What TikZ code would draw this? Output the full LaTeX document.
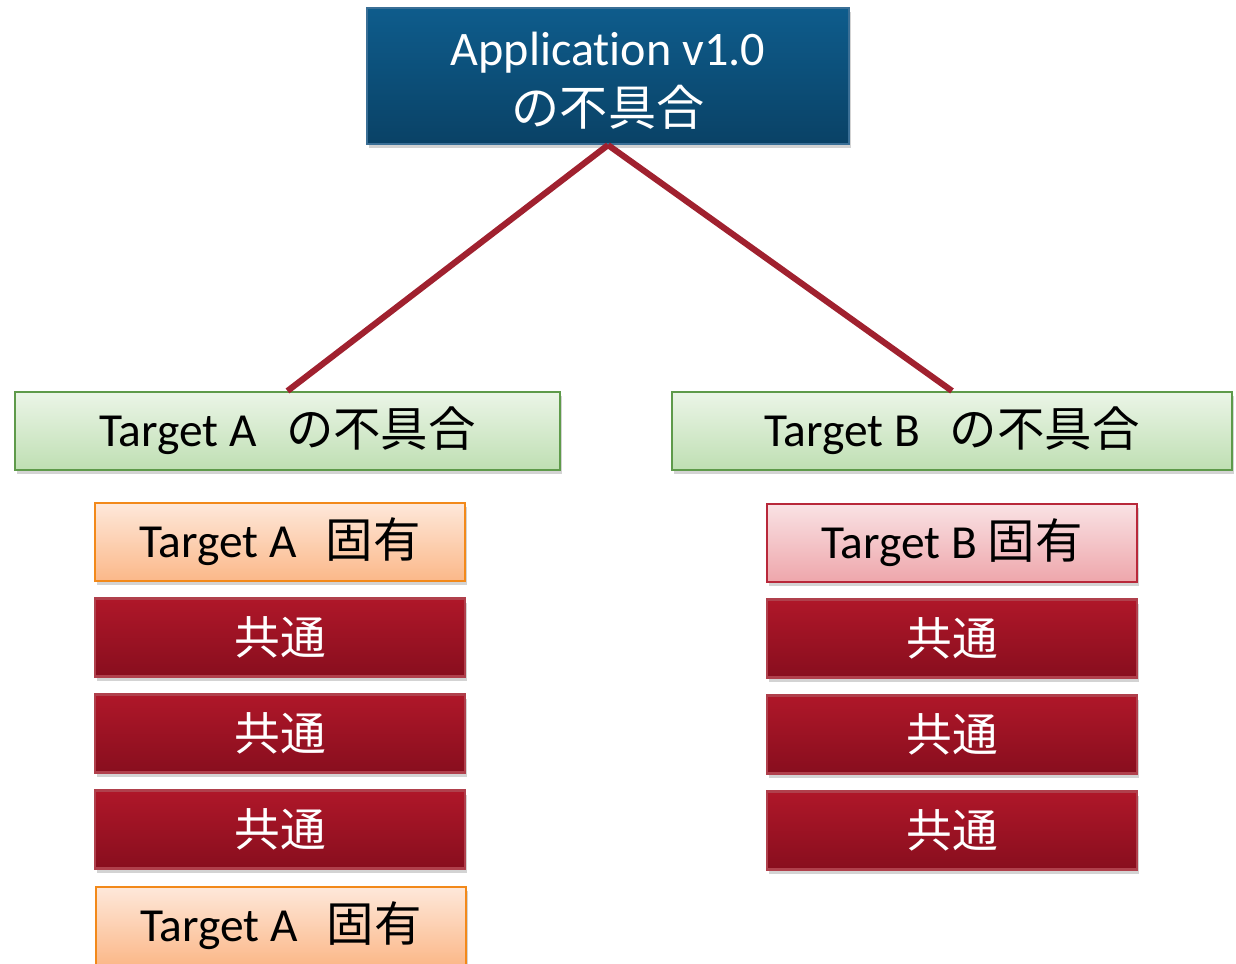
\documentclass[tikz,border=0pt]{standalone}
\usepackage{fontspec}
\setmainfont{Carlito}[Ligatures=NoCommon]
\newfontfamily\cjk{Noto Sans CJK JP}
\usetikzlibrary{shadows}
\definecolor{appTop}{HTML}{0E5C8C}
\definecolor{appBot}{HTML}{0A4266}
\definecolor{appLine}{HTML}{3A6F96}
\definecolor{grTop}{HTML}{EBF5E7}
\definecolor{grBot}{HTML}{BFDFB3}
\definecolor{grLine}{HTML}{5E9A4A}
\definecolor{orTop}{HTML}{FEE8DA}
\definecolor{orBot}{HTML}{FBB889}
\definecolor{orLine}{HTML}{F2891A}
\definecolor{pkTop}{HTML}{F9E2E4}
\definecolor{pkBot}{HTML}{EEA6AB}
\definecolor{pkLine}{HTML}{B8283A}
\definecolor{rdTop}{HTML}{AF1729}
\definecolor{rdBot}{HTML}{880E1E}
\definecolor{rdLine}{HTML}{B0404C}
\definecolor{conn}{HTML}{A0212F}
\newcommand{\gapsp}{\hspace{0.62em}}
\tikzset{
  box/.style={rectangle, inner sep=0pt, line width=1.2pt,
    drop shadow={opacity=0.35, shadow xshift=0.04cm, shadow yshift=-0.08cm}},
  appbox/.style={box, draw=appLine, top color=appTop, bottom color=appBot,
    text=white, minimum width=9.64cm, minimum height=2.72cm, align=center,
    font=\fontsize{27.4}{35}\selectfont},
  grbox/.style={box, draw=grLine, top color=grTop, bottom color=grBot,
    text=black, minimum height=1.56cm, font=\fontsize{27}{32}\selectfont},
  orbox/.style={box, draw=orLine, top color=orTop, bottom color=orBot,
    text=black, minimum width=7.4cm, minimum height=1.56cm, font=\fontsize{27}{32}\selectfont},
  pkbox/.style={box, draw=pkLine, top color=pkTop, bottom color=pkBot,
    text=black, minimum width=7.4cm, minimum height=1.56cm, font=\fontsize{27}{32}\selectfont},
  rdbox/.style={box, draw=rdLine, top color=rdTop, bottom color=rdBot,
    text=white, minimum width=7.4cm, minimum height=1.56cm, font=\fontsize{26}{32}\selectfont\cjk},
  connector/.style={draw=conn, line width=3.5pt}
}
\begin{document}
\begin{tikzpicture}[x=0.02cm,y=-0.02cm]
\useasboundingbox (0,0) rectangle (1236,963);
\begin{scope}
\clip (0,0) rectangle (1236,963);
\node[appbox] (app) at (608,76) {\rule{0pt}{0.9em}Applicat\kern0pt ion v1.0\\[-1pt]{\cjk の不具合}};
\node[grbox, minimum width=10.9cm] (ta) at (287.5,431) {Target A\gapsp{\cjk の不具合}};
\node[grbox, minimum width=11.2cm] (tb) at (952,431) {Target B\gapsp{\cjk の不具合}};
\node[orbox] (a1) at (280,542) {Target A\gapsp{\cjk 固有}};
\node[rdbox] (a2) at (280,637.5) {共通};
\node[rdbox] (a3) at (280,733.5) {共通};
\node[rdbox] (a4) at (280,829.5) {共通};
\node[orbox] (a5) at (281,926) {Target A\gapsp{\cjk 固有}};
\node[pkbox] (b1) at (952,543) {Target B {\cjk 固有}};
\node[rdbox] (b2) at (952,638.5) {共通};
\node[rdbox] (b3) at (952,734.5) {共通};
\node[rdbox] (b4) at (952,830.5) {共通};
\draw[connector] (app.south) -- (ta.north);
\draw[connector] (app.south) -- (tb.north);
\end{scope}
\end{tikzpicture}
\end{document}
